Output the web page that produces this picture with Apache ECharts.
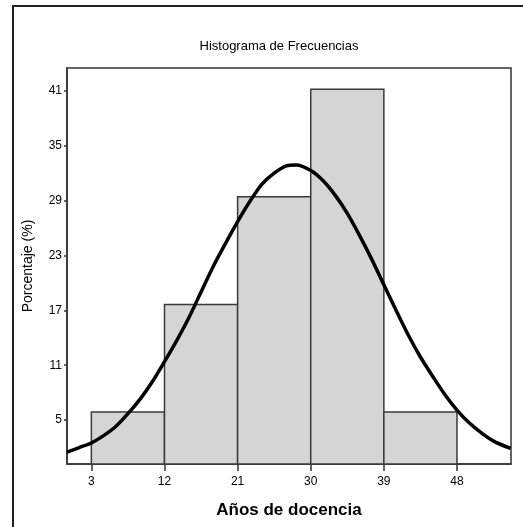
<!DOCTYPE html>
<html>
<head>
<meta charset="utf-8">
<title>Histograma de Frecuencias</title>
<script src="https://cdn.jsdelivr.net/npm/echarts@6/dist/echarts.min.js"></script>
<style>
	html, body { margin: 0; padding: 0; background: #fff; }
	#main { width: 523px; height: 527px; }
</style>
</head>
<body>
<div id="main"></div>
<script>
// bins (años de docencia) and percent per bin
var binStart = [3, 12, 21, 30, 39];
var binEnd = [12, 21, 30, 39, 48];
var percent = [5.88, 17.65, 29.41, 41.18, 5.88];

// fitted normal curve
var curveX = [0, 1.5, 3, 4.5, 6, 7.5, 9, 10.5, 12, 13.5, 15, 16.5, 18, 19.5, 21, 22.5, 24, 25.5, 27, 28.2,
	30, 31.5, 33, 34.5, 36, 37.5, 39, 40.5, 42, 43.5, 45, 46.5, 48, 49.5, 51, 52.5, 54.6];
var curveY = [1.5, 2.0, 2.5, 3.3, 4.3, 5.7, 7.3, 9.2, 11.4, 13.7, 16.2, 19.0, 21.8, 24.3, 26.7, 28.9, 30.8, 32.0, 32.8, 32.9,
	32.3, 31.2, 29.6, 27.6, 25.2, 22.6, 19.8, 17.0, 14.3, 11.9, 9.8, 7.8, 6.1, 4.7, 3.6, 2.7, 1.9];

var xTicks = [3, 12, 21, 30, 39, 48];
var yTicks = [5, 11, 17, 23, 29, 35, 41];

var labelFont = '"Liberation Sans", Arial, sans-serif';

var histApp = function() {
	var chart;
	var yMin = 0.2;

	var buildBars = function() {
		var bars = [];
		binStart.map(function(s, i) {
			bars.push([s, binEnd[i], percent[i]]);
		});
		return bars;
	};

	var buildCurve = function() {
		return curveX.map(function(x, i) {
			return [x, curveY[i]];
		});
	};

	var renderBar = function(params, api) {
		var p1 = api.coord([api.value(0), api.value(2)]);
		var p2 = api.coord([api.value(1), yMin]);
		return {
			type: 'rect',
			shape: {
				x: p1[0],
				y: p1[1],
				width: p2[0] - p1[0],
				height: p2[1] - p1[1]
			},
			style: {
				fill: '#d5d5d5',
				stroke: '#3a3a3a',
				lineWidth: 1.5
			}
		};
	};

	var option = {
		animation: false,
		backgroundColor: '#fff',
		title: {
			text: 'Histograma de Frecuencias',
			left: 274,
			top: 35,
			textAlign: 'center',
			textStyle: {
				fontFamily: labelFont,
				fontSize: 13,
				fontWeight: 'normal',
				color: '#000'
			}
		},
		graphic: [{
			// outer frame: only left and top edges are inside the picture
			type: 'polyline',
			shape: { points: [[13, 527], [13, 6], [523, 6]] },
			style: { fill: null, stroke: '#222', lineWidth: 2 },
			silent: true
		}],
		grid: {
			left: 67,
			top: 68,
			right: 12,
			bottom: 63,
			show: true,
			borderColor: '#333',
			borderWidth: 1.5,
			backgroundColor: 'transparent'
		},
		xAxis: {
			type: 'value',
			min: 0,
			max: 54.65,
			name: 'Años de docencia',
			nameLocation: 'middle',
			nameGap: 38,
			nameTextStyle: {
				fontFamily: 'Arial, "Liberation Sans", sans-serif',
				fontSize: 17,
				fontWeight: 'bold',
				color: '#000'
			},
			axisLine: { show: true, onZero: false, lineStyle: { color: '#333', width: 1.5 } },
			axisTick: {
				show: true,
				length: 7,
				customValues: xTicks,
				lineStyle: { color: '#333', width: 1.5 }
			},
			axisLabel: {
				customValues: xTicks,
				margin: 12,
				fontFamily: labelFont,
				fontSize: 12,
				color: '#000'
			},
			splitLine: { show: false }
		},
		yAxis: {
			type: 'value',
			min: yMin,
			max: 43.5,
			name: 'Porcentaje (%)',
			nameLocation: 'middle',
			nameGap: 32,
			nameTextStyle: {
				fontFamily: labelFont,
				fontSize: 14,
				color: '#000'
			},
			axisLine: { show: true, onZero: false, lineStyle: { color: '#333', width: 1.5 } },
			axisTick: {
				show: true,
				length: 3,
				customValues: yTicks,
				lineStyle: { color: '#333', width: 1.5 }
			},
			axisLabel: {
				customValues: yTicks,
				margin: 5,
				fontFamily: labelFont,
				fontSize: 12,
				color: '#000'
			},
			splitLine: { show: false }
		},
		series: [{
			name: 'Frecuencia',
			type: 'custom',
			renderItem: renderBar,
			encode: { x: [0, 1], y: 2 },
			data: buildBars(),
			z: 2
		}, {
			name: 'Normal',
			type: 'line',
			smooth: 0.3,
			symbol: 'none',
			data: buildCurve(),
			lineStyle: { color: '#000', width: 3.5 },
			z: 3
		}]
	};

	return {
		init: function() {
			chart = echarts.init(document.getElementById('main'), null, { renderer: 'canvas' });
			chart.setOption(option);
		}
	};
}();

histApp.init();
</script>
</body>
</html>
